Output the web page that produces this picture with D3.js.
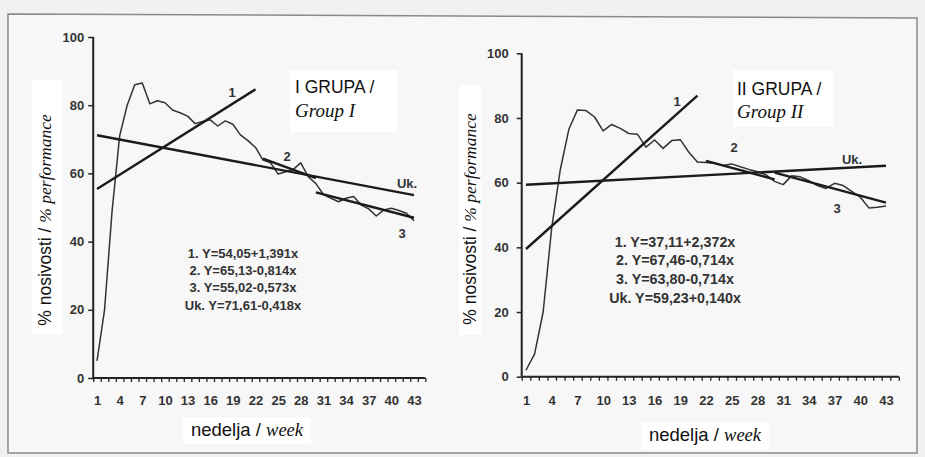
<!DOCTYPE html>
<html>
<head>
<meta charset="utf-8">
<script src="https://cdn.jsdelivr.net/npm/d3@7"></script>
<style>
  html, body { margin: 0; padding: 0; background: #f1f1f1; }
  svg { display: block; }
</style>
</head>
<body>
<svg id="chart" width="925" height="457"></svg>
<script>
// ---------------- DATA ----------------
const weeks = [1,2,3,4,5,6,7,8,9,10,11,12,13,14,15,16,17,18,19,20,21,22,23,24,25,26,27,28,29,30,31,32,33,34,35,36,37,38,39,40,41,42,43];
const weekTickLabels = [1,4,7,10,13,16,19,22,25,28,31,34,37,40,43];
const yTickValues = [0,20,40,60,80,100];

// % nosivosti, Group I
const groupI = [5,20,49,71,80,86,86.5,80.4,81.3,80.7,78.6,77.8,76.8,74.6,75.2,75.7,73.9,75.4,74.4,71.3,
                69.6,67.6,63.9,63.1,59.8,60.5,61.2,63.1,59,57,53.8,52.7,51.7,52.7,53.2,50.7,49.6,47.5,49.3,49.8,
                49.1,48.3,46.1];
// % nosivosti, Group II
const groupII = [2,7,20,46,64,76.5,82.5,82.3,80.3,76,78,76.8,75.2,75,71,73.2,70.6,73,73.3,69.4,
                 66.4,66.2,66,65.3,65.8,64.9,64.1,63.4,62.4,60.4,59.4,62.1,61.8,60.6,59.1,58.2,59.8,59.1,57.3,55.5,
                 52.2,52.4,52.8];

// regression lines: [label, intercept, slope, firstWeek, lastWeek]  (x = 1 at firstWeek)
const trendsI = [
  ["1", 54.05, 1.391, 1, 22],
  ["2", 65.13, -0.814, 23, 30],
  ["3", 55.02, -0.573, 30, 43],
  ["Uk.", 71.61, -0.418, 1, 43]
];
const trendsII = [
  ["1", 37.11, 2.372, 1, 21],
  ["2", 67.46, -0.714, 22, 30],
  ["3", 63.80, -0.714, 30, 43],
  ["Uk.", 59.23, 0.140, 1, 43]
];
const equationsI = ["1. Y=54,05+1,391x", "2. Y=65,13-0,814x", "3. Y=55,02-0,573x", "Uk. Y=71,61-0,418x"];
const equationsII = ["1. Y=37,11+2,372x", "2. Y=67,46-0,714x", "3. Y=63,80-0,714x", "Uk. Y=59,23+0,140x"];
const groupTitles = [["I GRUPA /", "Group I"], ["II GRUPA /", "Group II"]];
const yTitle = ["% nosivosti / ", "% performance"];
const xTitle = ["nedelja / ", "week"];

// ---------------- LAYOUT ----------------
const svg = d3.select("#chart");
const SANS = "'Liberation Sans', Arial, sans-serif";
const SERIF = "'Liberation Serif', 'Times New Roman', serif";

// frame of the scanned figure
svg.append("path")
  .attr("d", "M8,14 L917,18 L917,453 L8,453 Z")
  .attr("fill", "#f7f7f7").attr("stroke", "#8a8a8a").attr("stroke-width", 1.5);

const panels = [
  { data: groupI, trends: trendsI, eqs: equationsI, title: groupTitles[0],
    x0: 97, x1: 414, yBottom: 378, yTop: 37, yPad: 4,
    xLabOff: 17.5,
    titleBox: [290, 70, 107, 62], titleX: 295, titleY1: 93, titleY2: 117,
    eqX: 243, eqY: [258, 275, 292, 310], eqSize: 13,
    yTitleBox: [32, 80, 31, 254], yTitleX: 51, yTitleY: 220,
    xTitleBox: [183, 417, 128, 27], xTitleX: 247, xTitleY: 436,
    labels: { "1": [232, 97], "2": [287, 161], "Uk.": [407, 188], "3": [402, 238] } },
  { data: groupII, trends: trendsII, eqs: equationsII, title: groupTitles[1],
    x0: 526, x1: 886, yBottom: 376.7, yTop: 53.3, yPad: 8,
    xLabOff: 19,
    titleBox: [733, 70, 100, 57], titleX: 737, titleY1: 95, titleY2: 118,
    eqX: 675, eqY: [246.5, 265, 283.5, 303], eqSize: 14.3,
    yTitleBox: [459, 85, 22, 250], yTitleX: 476, yTitleY: 219,
    xTitleBox: [641, 422, 128, 28], xTitleX: 705, xTitleY: 441,
    labels: { "1": [677, 106], "2": [734, 152], "Uk.": [852, 164], "3": [837, 213] } }
];

panels.forEach(p => {
  const x = d3.scaleLinear().domain([1, 43]).range([p.x0, p.x1]);
  const y = d3.scaleLinear().domain([0, 100]).range([p.yBottom, p.yTop]);
  const g = svg.append("g");

  // white paste-up boxes
  [p.titleBox, p.yTitleBox, p.xTitleBox].forEach(b => {
    g.append("rect").attr("x", b[0]).attr("y", b[1]).attr("width", b[2]).attr("height", b[3]).attr("fill", "#ffffff");
  });

  // y axis
  const yAxis = g.append("g").attr("transform", `translate(${x(0.5)},0)`)
    .call(d3.axisLeft(y).tickValues(yTickValues).tickSize(5).tickPadding(p.yPad).tickFormat(d3.format("d")));
  yAxis.select(".domain").attr("stroke", "#222").attr("stroke-width", 2).attr("d", `M0,${y(0)}V${y(100)}`);
  yAxis.selectAll(".tick line").attr("stroke", "#222").attr("stroke-width", 1.5);
  yAxis.selectAll("text").attr("font-family", SANS).attr("font-size", 13).attr("font-weight", "bold").attr("fill", "#333");

  // x axis minor ticks (category boundaries)
  const bounds = weeks.concat([44]).map(w => w - 0.5).concat([44.5]);
  const xMinor = g.append("g").attr("transform", `translate(0,${y(0)})`)
    .call(d3.axisBottom(x).tickValues(bounds).tickSize(4).tickFormat(""));
  xMinor.select(".domain").attr("stroke", "#222").attr("stroke-width", 2).attr("d", `M${x(0.5)},0H${x(44.5)}`);
  xMinor.selectAll(".tick line").attr("stroke", "#222").attr("stroke-width", 1.3);

  // x axis labels
  const xLab = g.append("g").attr("transform", `translate(0,${y(0)})`)
    .call(d3.axisBottom(x).tickValues(weekTickLabels).tickSize(0).tickPadding(p.xLabOff));
  xLab.select(".domain").remove();
  xLab.selectAll("text").attr("font-family", SANS).attr("font-size", 13).attr("font-weight", "bold").attr("fill", "#333");

  // data line
  g.append("path").datum(p.data)
    .attr("fill", "none").attr("stroke", "#333").attr("stroke-width", 1.5).attr("stroke-linejoin", "round")
    .attr("d", d3.line().x((d, i) => x(weeks[i])).y(d => y(d)));

  // regression lines
  p.trends.forEach(t => {
    const [lab, a, b, w0, w1] = t;
    const pts = [w0, w1].map(w => [w, a + b * (w - w0 + 1)]);
    g.append("path").datum(pts)
      .attr("fill", "none").attr("stroke", "#1b1b1b").attr("stroke-width", 2.4)
      .attr("d", d3.line().x(d => x(d[0])).y(d => y(d[1])));
    const lp = p.labels[lab];
    g.append("text").attr("x", lp[0]).attr("y", lp[1]).attr("text-anchor", "middle")
      .attr("font-family", SANS).attr("font-size", 13).attr("font-weight", "bold").attr("fill", "#333").text(lab);
  });

  // equations
  p.eqs.forEach((e, i) => {
    g.append("text").attr("x", p.eqX).attr("y", p.eqY[i]).attr("text-anchor", "middle")
      .attr("font-family", SANS).attr("font-size", p.eqSize).attr("font-weight", "bold").attr("fill", "#333").text(e);
  });

  // group title
  g.append("text").attr("x", p.titleX).attr("y", p.titleY1)
    .attr("font-family", SANS).attr("font-size", 17.5).attr("fill", "#111").text(p.title[0]);
  g.append("text").attr("x", p.titleX).attr("y", p.titleY2)
    .attr("font-family", SERIF).attr("font-style", "italic").attr("font-size", 19).attr("fill", "#111").text(p.title[1]);

  // y title
  const yt = g.append("text").attr("transform", `translate(${p.yTitleX},${p.yTitleY}) rotate(-90)`)
    .attr("text-anchor", "middle").attr("fill", "#111");
  yt.append("tspan").attr("font-family", SANS).attr("font-size", 17.5).text(yTitle[0]);
  yt.append("tspan").attr("font-family", SERIF).attr("font-style", "italic").attr("font-size", 17.5).text(yTitle[1]);

  // x title
  const xt = g.append("text").attr("x", p.xTitleX).attr("y", p.xTitleY).attr("text-anchor", "middle").attr("fill", "#111");
  xt.append("tspan").attr("font-family", SANS).attr("font-size", 18.5).text(xTitle[0]);
  xt.append("tspan").attr("font-family", SERIF).attr("font-style", "italic").attr("font-size", 18.5).text(xTitle[1]);
});
</script>
</body>
</html>
